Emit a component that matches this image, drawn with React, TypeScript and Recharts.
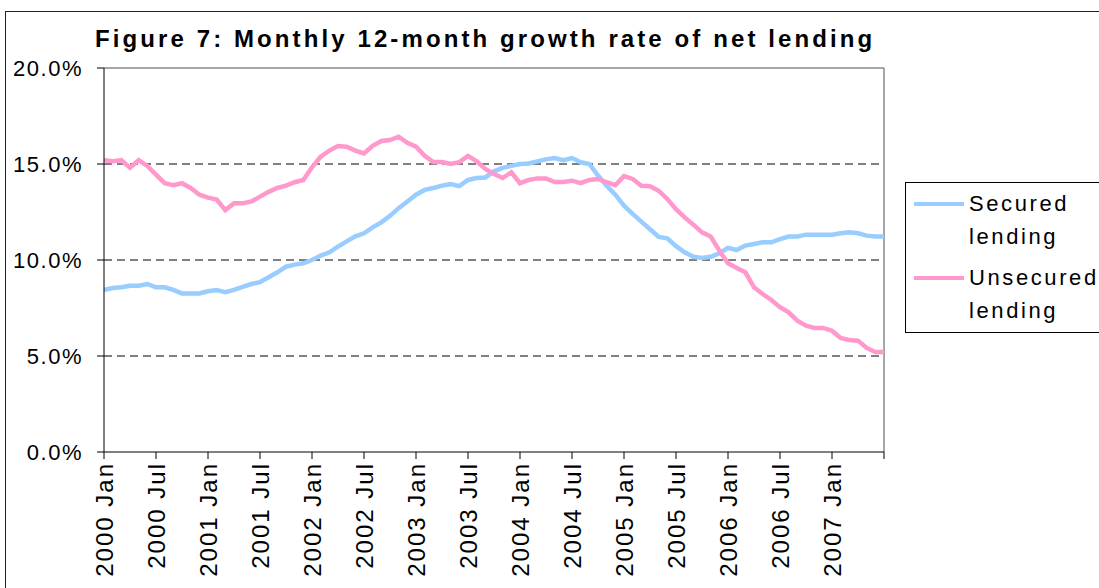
import React from 'react';
import {
  LineChart,
  Line,
  XAxis,
  YAxis,
  CartesianGrid,
  ReferenceLine
} from 'recharts';

const years = [2000, 2001, 2002, 2003, 2004, 2005, 2006, 2007];
const monthNames = ['Jan', 'Feb', 'Mar', 'Apr', 'May', 'Jun', 'Jul', 'Aug', 'Sep', 'Oct', 'Nov', 'Dec'];
const lastMonthIndex = 90; // 2007 Jul

const months: string[] = years
  .flatMap((y) => monthNames.map((m) => `${y} ${m}`))
  .slice(0, lastMonthIndex + 1);

const secured = [
  8.44, 8.54, 8.58, 8.66, 8.66, 8.75, 8.58, 8.58, 8.44, 8.26, 8.26, 8.26,
  8.37, 8.44, 8.33, 8.44, 8.6, 8.75, 8.85, 9.1, 9.36, 9.65, 9.76, 9.83,
  10.0, 10.23, 10.4, 10.7, 10.97, 11.23, 11.39, 11.7, 11.96, 12.3, 12.7, 13.05,
  13.4, 13.65, 13.75, 13.87, 13.96, 13.85, 14.17, 14.27, 14.3, 14.62, 14.8, 14.9,
  15.0, 15.03, 15.14, 15.24, 15.31, 15.2, 15.31, 15.09, 15.0, 14.4, 13.87, 13.4,
  12.83, 12.4, 12.0, 11.6, 11.2, 11.13, 10.72, 10.4, 10.17, 10.1, 10.17, 10.35,
  10.63, 10.52, 10.75, 10.83, 10.92, 10.92, 11.09, 11.22, 11.23, 11.32, 11.32, 11.32,
  11.32, 11.39, 11.44, 11.39, 11.27, 11.22, 11.22
];

const unsecured = [
  15.2, 15.15, 15.2, 14.8, 15.2, 14.9, 14.45, 14.0, 13.9, 14.0, 13.75, 13.4,
  13.25, 13.15, 12.6, 12.95, 12.95, 13.05, 13.3, 13.55, 13.75, 13.87, 14.05, 14.17,
  14.83, 15.38, 15.7, 15.94, 15.9, 15.7, 15.55, 15.95, 16.2, 16.25, 16.42, 16.1,
  15.9, 15.43, 15.1, 15.1, 15.0, 15.1, 15.42, 15.14, 14.74, 14.48, 14.27, 14.57,
  14.0, 14.17, 14.25, 14.25, 14.06, 14.06, 14.13, 14.0, 14.17, 14.22, 14.05, 13.9,
  14.37, 14.22, 13.87, 13.84, 13.6, 13.18, 12.65, 12.22, 11.84, 11.44, 11.22, 10.49,
  9.83, 9.58, 9.36, 8.58, 8.23, 7.92, 7.54, 7.27, 6.84, 6.58, 6.46, 6.46,
  6.32, 5.94, 5.83, 5.8, 5.42, 5.21, 5.21
];

const yTicks = [0, 5, 10, 15, 20];
const dashedLevels = [5, 10, 15];

const series = [
  { key: 'secured', label: ['Secured', 'lending'], color: '#99ccff' },
  { key: 'unsecured', label: ['Unsecured', 'lending'], color: '#ff99cc' }
];

const data = months.map((month, i) => ({
  month,
  secured: secured[i],
  unsecured: unsecured[i]
}));

const FONT = '"Liberation Sans", Arial, sans-serif';

const XTick = (props: any) => {
  const { x, y, payload } = props;
  if (payload.value === months[lastMonthIndex]) return <g />;
  return (
    <text
      transform={`translate(${x},${y}) rotate(-90)`}
      textAnchor="end"
      dy="0.36em"
      fontSize={24}
      letterSpacing={2}
      fontFamily={FONT}
      fill="#000"
    >
      {payload.value}
    </text>
  );
};

export default function App() {
  return (
    <div
      style={{
        position: 'fixed',
        left: 0,
        top: 0,
        width: 1099,
        height: 588,
        overflow: 'hidden',
        background: '#fff',
        fontFamily: FONT
      }}
    >
      <div
        style={{
          position: 'absolute',
          left: 5,
          top: 11,
          width: 1200,
          height: 700,
          border: '1px solid #222'
        }}
      />
      <div
        style={{
          position: 'absolute',
          left: 95,
          top: 25,
          fontSize: 24,
          fontWeight: 'bold',
          letterSpacing: 3.1,
          whiteSpace: 'nowrap',
          color: '#000'
        }}
      >
        Figure 7: Monthly 12-month growth rate of net lending
      </div>
      <div style={{ position: 'absolute', left: 0, top: 0 }}>
        <LineChart
          width={1099}
          height={588}
          data={data}
          margin={{ top: 68, right: 215, bottom: 0, left: 0 }}
        >
          <CartesianGrid
            vertical={false}
            horizontalValues={dashedLevels}
            stroke="#000"
            strokeDasharray="8 5"
          />
          <ReferenceLine y={20} stroke="#888" strokeWidth={1.5} />
          <ReferenceLine x={months[lastMonthIndex]} stroke="#888" strokeWidth={1.5} />
          <XAxis
            dataKey="month"
            interval={5}
            height={136}
            tickSize={7}
            tickMargin={3}
            stroke="#000"
            tickLine={{ stroke: '#000' }}
            tick={<XTick />}
          />
          <YAxis
            domain={[0, 20]}
            ticks={yTicks}
            width={104}
            tickSize={7}
            tickMargin={14}
            stroke="#000"
            tickFormatter={(v: number) => `${v.toFixed(1)}%`}
            tick={{ fill: '#000', fontSize: 22, fontFamily: FONT, letterSpacing: 1.5 }}
          />
          {series.map((s) => (
            <Line
              key={s.key}
              dataKey={s.key}
              stroke={s.color}
              strokeWidth={4.5}
              dot={false}
              type="linear"
              isAnimationActive={false}
            />
          ))}
        </LineChart>
      </div>
      <div
        style={{
          position: 'absolute',
          left: 905,
          top: 182,
          width: 300,
          height: 149,
          border: '1px solid #000'
        }}
      >
        {series.map((s, i) => (
          <div
            key={s.key}
            style={{
              position: 'absolute',
              left: 8,
              top: 4 + i * 74,
              display: 'flex',
              alignItems: 'flex-start'
            }}
          >
            <div
              style={{
                width: 50,
                height: 4,
                background: s.color,
                marginTop: 15,
                marginRight: 5
              }}
            />
            <div style={{ fontSize: 22, letterSpacing: 2.6, lineHeight: '33px', color: '#000' }}>
              {s.label.map((l) => (
                <div key={l}>{l}</div>
              ))}
            </div>
          </div>
        ))}
      </div>
    </div>
  );
}
